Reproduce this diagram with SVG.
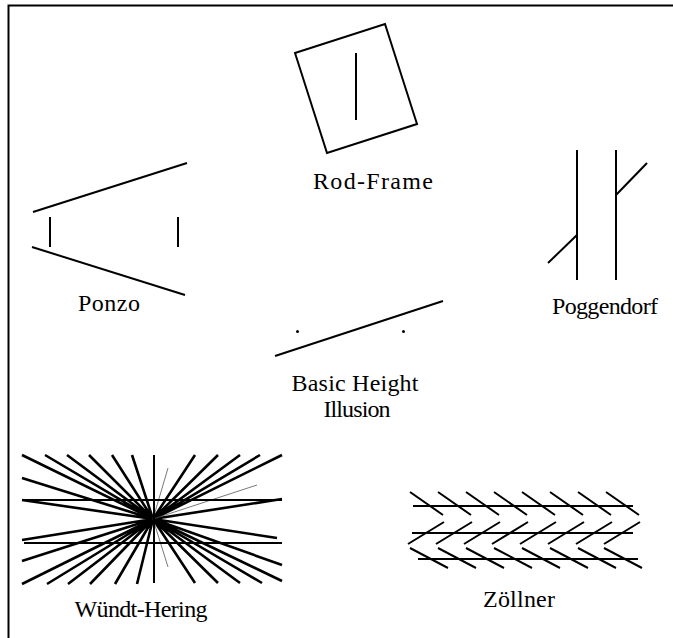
<svg xmlns="http://www.w3.org/2000/svg" width="673" height="638" viewBox="0 0 673 638">
<style>
.ln{stroke:#000;stroke-width:2;fill:none;stroke-linecap:butt}
.ray{stroke:#000;stroke-width:2.6;fill:none}
.thin{stroke:#555;stroke-width:0.8;fill:none}
.lbl{font-family:"Liberation Serif","Times New Roman",serif;font-size:24px;fill:#000;text-anchor:middle}
</style>
<rect width="673" height="638" fill="#fff"/>
<g id="frame"><path class="ln" d="M8.5,638 V5.5 H673" stroke-width="1.8"/></g>

<g id="rod-frame">
<polygon class="ln" points="295,53 385,24 417,124 327,153"/>
<line class="ln" x1="356" y1="53" x2="356" y2="120" stroke-width="1.8"/>
<text class="lbl" x="373" y="189" textLength="120" lengthAdjust="spacing">Rod-Frame</text>
</g>

<g id="ponzo">
<line class="ln" x1="33" y1="212" x2="187" y2="163"/>
<line class="ln" x1="32" y1="247" x2="185" y2="295"/>
<line class="ln" x1="50" y1="217" x2="50" y2="247"/>
<line class="ln" x1="178" y1="217" x2="178" y2="247"/>
<text class="lbl" x="109" y="311" textLength="62" lengthAdjust="spacing">Ponzo</text>
</g>

<g id="poggendorf">
<line class="ln" x1="577" y1="150" x2="577" y2="280"/>
<line class="ln" x1="616" y1="150" x2="616" y2="280"/>
<line class="ln" x1="548" y1="263" x2="577" y2="235"/>
<line class="ln" x1="616" y1="195" x2="647" y2="163"/>
<text class="lbl" x="605" y="314" textLength="106" lengthAdjust="spacing">Poggendorf</text>
</g>

<g id="basic-height">
<line class="ln" x1="275" y1="356" x2="443" y2="301"/>
<circle cx="297.5" cy="331.5" r="1.5" fill="#000"/>
<circle cx="403.5" cy="331.5" r="1.5" fill="#000"/>
<text class="lbl" x="355" y="391" textLength="127" lengthAdjust="spacing">Basic Height</text>
<text class="lbl" x="357" y="417" textLength="67" lengthAdjust="spacing">Illusion</text>
</g>

<g id="wundt-hering">
<g class="ray">
<path d="M153,519 L22,455 M153,519 L45,455 M153,519 L67,455 M153,519 L89,455 M153,519 L112,455 M153,519 L132,455"/>
<path d="M153,519 L22,478 M153,519 L22,500 M153,519 L22,540 M153,519 L22,561"/>
<path d="M153,519 L22,584 M153,519 L47,584 M153,519 L68,584 M153,519 L90,584 M153,519 L115,584 M153,519 L137,584"/>
<path d="M153,519 L195,455 M153,519 L218,455 M153,519 L240,455 M153,519 L260,455 M153,519 L282,455"/>
<path d="M153,519 L282,499 M153,519 L277,538 M153,519 L282,565 M153,519 L282,581"/>
<path d="M153,519 L195,583 M153,519 L218,583 M153,519 L240,583 M153,519 L262,583"/>
</g>
<path class="thin" d="M153,519 L168,468 M153,519 L257,485 M153,519 L168,567"/>
<line class="ln" x1="24" y1="500" x2="282" y2="500"/>
<line class="ln" x1="24" y1="543" x2="282" y2="543"/>
<line class="ln" x1="154" y1="455" x2="154" y2="583"/>
<text class="lbl" x="141" y="617" textLength="133" lengthAdjust="spacing">Wündt-Hering</text>
</g>

<g id="zollner">
<line class="ln" x1="413" y1="506" x2="633" y2="506"/>
<line class="ln" x1="412" y1="533" x2="633" y2="533"/>
<line class="ln" x1="418" y1="559" x2="638" y2="559"/>
<path class="ln" d="M410,492 l33,23 M438,492 l33,23 M466,492 l33,23 M494,492 l33,23 M522,492 l33,23 M550,492 l33,23 M578,492 l33,23 M606,492 l33,23"/>
<path class="ln" d="M408,544 l36,-22 M436,544 l36,-22 M464,544 l36,-22 M492,544 l36,-22 M520,544 l36,-22 M548,544 l36,-22 M576,544 l36,-22 M604,544 l36,-22"/>
<path class="ln" d="M410,548 l38,20 M438,548 l38,20 M466,548 l38,20 M494,548 l38,20 M522,548 l38,20 M550,548 l38,20 M578,548 l38,20 M604,548 l38,20"/>
<text class="lbl" x="519" y="607" textLength="72" lengthAdjust="spacing">Zöllner</text>
</g>
</svg>
